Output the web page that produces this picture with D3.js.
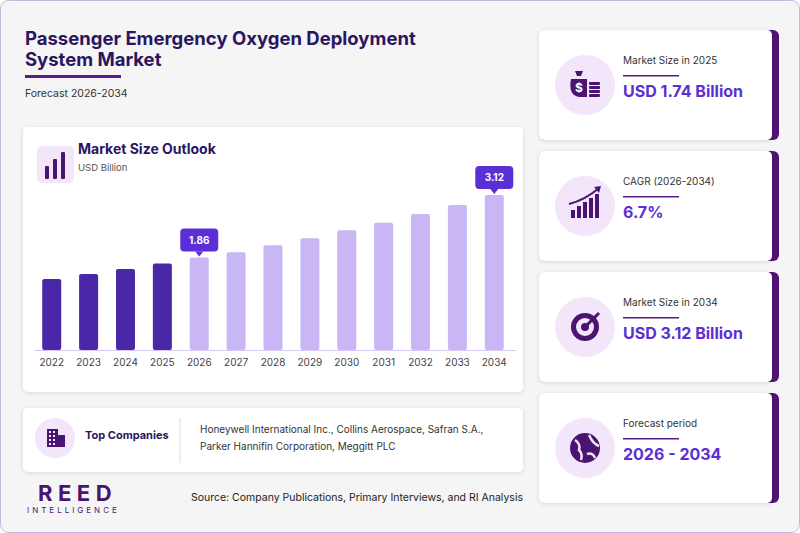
<!DOCTYPE html>
<html><head><meta charset="utf-8">
<script src="https://d3js.org/d3.v7.min.js"></script>
<style>body{margin:0;background:#fff;font-family:Inter,"Noto Sans",sans-serif}</style>
</head><body><div id="chart"></div>
<script>
const years = ["2022","2023","2024","2025","2026","2027","2028","2029","2030","2031","2032","2033","2034"];
const values = [1.43,1.53,1.63,1.74,1.86,1.97,2.11,2.25,2.41,2.56,2.74,2.92,3.12];
const labelled = ["2026","2034"];
const cards = [
  {label:"Market Size in 2025", value:"USD 1.74 Billion"},
  {label:"CAGR (2026-2034)", value:"6.7%"},
  {label:"Market Size in 2034", value:"USD 3.12 Billion"},
  {label:"Forecast period", value:"2026 - 2034"}
];
const companies = ["Honeywell International Inc., Collins Aerospace, Safran S.A.,","Parker Hannifin Corporation, Meggitt PLC"];

const W = 800, H = 533;
const svg = d3.select("#chart").append("svg").attr("width", W).attr("height", H);
const defs = svg.append("defs");
const f = defs.append("filter").attr("id","sh").attr("x","-10%").attr("y","-10%").attr("width","120%").attr("height","130%");
f.append("feDropShadow").attr("dx",0).attr("dy",1).attr("stdDeviation",2).attr("flood-color","#000").attr("flood-opacity",0.12);

svg.append("rect").attr("x",0.5).attr("y",0.5).attr("width",W-1).attr("height",H-1).attr("rx",8)
  .attr("fill","#f5f5f5").attr("stroke","#c9b6e0");

// title
svg.append("text").attr("x",25).attr("y",45).attr("font-size",18.5).attr("font-weight",700).attr("fill","#2a1660").text("Passenger Emergency Oxygen Deployment");
svg.append("text").attr("x",25).attr("y",66).attr("font-size",18.5).attr("font-weight",700).attr("fill","#2a1660").text("System Market");
svg.append("rect").attr("x",25).attr("y",75).attr("width",96).attr("height",3).attr("fill","#5b1a8a");
svg.append("text").attr("x",25).attr("y",97).attr("font-size",10.5).attr("fill","#333").text("Forecast 2026-2034");

// chart panel
svg.append("rect").attr("x",23).attr("y",127).attr("width",500).attr("height",265).attr("rx",5).attr("fill","#fff").attr("filter","url(#sh)");
svg.append("rect").attr("x",37).attr("y",146).attr("width",37).attr("height",37).attr("rx",5).attr("fill","#f3e6fb");
[[45,166,4,13],[53,159,4,20],[61,152,4,27]].forEach(b=>svg.append("rect").attr("x",b[0]).attr("y",b[1]).attr("width",b[2]).attr("height",b[3]).attr("rx",1).attr("fill","#4a1470"));
svg.append("text").attr("x",78).attr("y",154).attr("font-size",14).attr("font-weight",700).attr("fill","#2a1660").text("Market Size Outlook");
svg.append("text").attr("x",78).attr("y",171).attr("font-size",9.5).attr("fill","#555").text("USD Billion");

const x = d3.scaleBand().domain(years).range([33,513]).paddingInner(0.485).paddingOuter(0.25);
const y = d3.scaleLinear().domain([0,3.12]).range([350,195]);
const g = svg.append("g");
g.selectAll("rect.bar").data(years).join("rect").attr("class","bar")
  .attr("x",d=>x(d)).attr("width",x.bandwidth())
  .attr("y",(d,i)=>y(values[i])).attr("height",(d,i)=>350-y(values[i])).attr("rx",2)
  .attr("fill",d=>+d<=2025?"#4a27a6":"#c8b6f5");
g.append("line").attr("x1",35).attr("x2",516).attr("y1",350.5).attr("y2",350.5).attr("stroke","#d5c8f5");
const axis = g.append("g").attr("transform","translate(0,351)").call(d3.axisBottom(x).tickSize(0).tickPadding(8));
axis.select(".domain").remove();
axis.selectAll("text").attr("font-size",10).attr("fill","#444").attr("font-family","Inter,sans-serif");

labelled.forEach(yr=>{
  const i = years.indexOf(yr), cx = x(yr)+x.bandwidth()/2, top = y(values[i]);
  const lg = g.append("g").attr("transform",`translate(${cx},${top-6})`);
  lg.append("rect").attr("x",-19).attr("y",-23).attr("width",38).attr("height",23).attr("rx",4).attr("fill","#5b2fd6");
  lg.append("path").attr("d","M-4,0L4,0L0,5Z").attr("fill","#5b2fd6");
  lg.append("text").attr("y",-8).attr("text-anchor","middle").attr("font-size",10).attr("font-weight",700).attr("fill","#fff").text(values[i].toFixed(2));
});

// companies panel
svg.append("rect").attr("x",23).attr("y",408).attr("width",500).attr("height",64).attr("rx",5).attr("fill","#fff").attr("filter","url(#sh)");
svg.append("circle").attr("cx",55).attr("cy",438).attr("r",20).attr("fill","#f3e6fb");
const bld = svg.append("g").attr("fill","#4a1470");
bld.append("rect").attr("x",47).attr("y",429).attr("width",11).attr("height",18);
bld.append("rect").attr("x",58).attr("y",435).attr("width",7).attr("height",12);
for(let r=0;r<4;r++)for(let c=0;c<2;c++)bld.append("rect").attr("x",49+c*4).attr("y",431+r*4).attr("width",2).attr("height",2).attr("fill","#f3e6fb");
svg.append("text").attr("x",85).attr("y",439).attr("font-size",11).attr("font-weight",700).attr("fill","#2a1660").text("Top Companies");
svg.append("line").attr("x1",180).attr("x2",180).attr("y1",418).attr("y2",463).attr("stroke","#ddd");
companies.forEach((c,i)=>svg.append("text").attr("x",200).attr("y",433+i*17).attr("font-size",10).attr("fill","#333").text(c));

// logo + source
svg.append("text").attr("x",38).attr("y",501).attr("font-size",22).attr("font-weight",700).attr("letter-spacing",5.5).attr("fill","#4a1470").text("REED");
svg.append("text").attr("x",27).attr("y",513).attr("font-size",8).attr("letter-spacing",3).attr("fill","#4a1470").text("INTELLIGENCE");
svg.append("text").attr("x",523).attr("y",501).attr("text-anchor","end").attr("font-size",10.5).attr("fill","#222").text("Source: Company Publications, Primary Interviews, and RI Analysis");

// KPI cards
const icons = [
  g=>{g.append("path").attr("d","M-14,-6C-16,4 -14,12 -4,12L2,12L2,-6Z").attr("fill","#4a1470");
      g.append("path").attr("d","M-10,-14L-2,-14L-4,-9L-8,-9Z").attr("fill","#4a1470");
      g.append("text").attr("x",-6).attr("y",7).attr("text-anchor","middle").attr("font-size",12).attr("font-weight",700).attr("fill","#fff").text("$");
      for(let k=0;k<4;k++)g.append("rect").attr("x",4).attr("y",-3+k*4).attr("width",11).attr("height",3).attr("rx",1).attr("fill","#4a1470");},
  g=>{[[-14,4,4,8],[-8,0,4,12],[-2,-4,4,16],[4,-8,4,20],[10,-12,4,24]].forEach(b=>g.append("rect").attr("x",b[0]).attr("y",b[1]).attr("width",b[2]).attr("height",b[3]).attr("fill","#4a1470"));
      g.append("path").attr("d","M-16,-2Q0,-6 14,-18").attr("stroke","#4a1470").attr("stroke-width",2).attr("fill","none");
      g.append("path").attr("d","M9,-19L16,-20L14,-13Z").attr("fill","#4a1470");},
  g=>{[14,9,4].forEach((r,k)=>g.append("circle").attr("r",r).attr("fill",k%2?"#f3e6fb":"#4a1470"));
      g.append("path").attr("d","M0,0L14,-14").attr("stroke","#4a1470").attr("stroke-width",3);},
  g=>{g.append("circle").attr("r",15).attr("fill","#4a1470");
      g.append("path").attr("d","M-10,-8Q-4,-4 -6,2Q-2,6 -4,12M4,-13Q8,-4 14,-2M2,6Q8,4 10,10").attr("stroke","#f3e6fb").attr("stroke-width",2.5).attr("fill","none");}
];
cards.forEach((c,i)=>{
  const y0 = 30+i*121;
  const cg = svg.append("g").attr("transform",`translate(539,${y0})`);
  cg.append("rect").attr("x",0).attr("y",0).attr("width",240).attr("height",110).attr("rx",6).attr("fill","#4f1272");
  cg.append("rect").attr("x",0).attr("y",0).attr("width",233).attr("height",110).attr("rx",5).attr("fill","#fff").attr("filter","url(#sh)");
  cg.append("circle").attr("cx",46).attr("cy",55).attr("r",30).attr("fill","#f3e6fb");
  icons[i](cg.append("g").attr("transform",`translate(46,55)`));
  cg.append("text").attr("x",84).attr("y",34).attr("font-size",10).attr("fill","#333").text(c.label);
  cg.append("rect").attr("x",84).attr("y",45).attr("width",56).attr("height",1.5).attr("fill","#5b1a8a");
  cg.append("text").attr("x",84).attr("y",67).attr("font-size",16).attr("font-weight",700).attr("fill","#5b2fd6").text(c.value);
});
</script></body></html>
